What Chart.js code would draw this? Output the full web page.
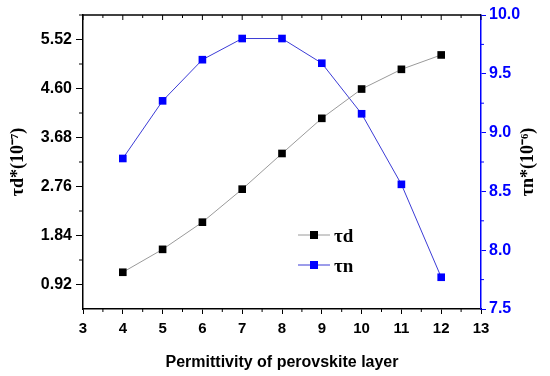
<!DOCTYPE html>
<html lang="en">
<head>
<meta charset="UTF-8">
<title>Permittivity of perovskite layer</title>
<script src="https://cdn.jsdelivr.net/npm/chart.js"></script>
<style>
  html, body { margin: 0; padding: 0; background: #ffffff; }
  .wrap { position: relative; width: 550px; height: 376px; }
</style>
</head>
<body>
<div class="wrap"><canvas id="chart" width="550" height="376"></canvas></div>
<script>
// --- data ---
const permittivity = [4, 5, 6, 7, 8, 9, 10, 11, 12];
const tauD = [1.15, 1.58, 2.09, 2.71, 3.38, 4.04, 4.59, 4.96, 5.23];   // x 10^-7
const tauN = [8.78, 9.27, 9.62, 9.80, 9.80, 9.59, 9.16, 8.56, 7.77];   // x 10^-6

const xTicks = [3, 4, 5, 6, 7, 8, 9, 10, 11, 12, 13];
const leftTicks = [0.92, 1.84, 2.76, 3.68, 4.60, 5.52];
const rightTicks = [7.5, 8.0, 8.5, 9.0, 9.5, 10.0];
const seriesNames = ['\u03C4d', '\u03C4n'];
const rightTitle = '\u03C4n*(10\u207B\u2076)';

const BLUE = '#0000ff';
const tickFont = { family: "'Liberation Sans', Arial, sans-serif", size: 15, weight: 'bold' };
const titleSerif = "bold 18px 'Liberation Serif', 'Times New Roman', serif";

// minor ticks sit halfway between the labelled ones
const mids = arr => arr.slice(1).map((v, i) => (v + arr[i]) / 2);

// frame: top border, inward top ticks, minor ticks, right title and the in-plot legend
const framePlugin = {
    id: 'frame',
    afterDraw(chart) {
        const { ctx, chartArea: a, scales } = chart;
        const seg = (x1, y1, x2, y2) => { ctx.beginPath(); ctx.moveTo(x1, y1); ctx.lineTo(x2, y2); ctx.stroke(); };
        ctx.save();
        ctx.strokeStyle = '#000'; ctx.lineWidth = 1.5;
        seg(a.left, a.top, a.right, a.top);
        ctx.lineWidth = 1;
        xTicks.forEach(v => { const x = scales.x.getPixelForValue(v); seg(x, a.top, x, a.top + 5); });
        mids(xTicks).forEach(v => {
            const x = scales.x.getPixelForValue(v);
            seg(x, a.top, x, a.top + 3);
            seg(x, a.bottom, x, a.bottom + 3);
        });
        mids(leftTicks).concat([leftTicks[leftTicks.length - 1] + 0.46]).forEach(v => {
            const y = scales.y.getPixelForValue(v); seg(a.left - 4, y, a.left, y);
        });
        ctx.strokeStyle = BLUE;
        mids(rightTicks).forEach(v => {
            const y = scales.y2.getPixelForValue(v); seg(a.right, y, a.right + 3, y);
        });

        // right axis title, reading bottom to top like the left one
        ctx.save();
        ctx.translate(a.right + 47, (a.top + a.bottom) / 2);
        ctx.rotate(-Math.PI / 2);
        ctx.fillStyle = '#000';
        ctx.font = titleSerif;
        ctx.textAlign = 'center';
        ctx.textBaseline = 'middle';
        ctx.fillText(rightTitle, 0, 0);
        ctx.restore();

        // legend
        const lx = a.left + 215, ly = a.top + 220;
        chart.data.datasets.forEach((ds, i) => {
            const y = ly + i * 30;
            ctx.strokeStyle = ds.borderColor; ctx.lineWidth = 1;
            seg(lx, y, lx + 32, y);
            ctx.fillStyle = ds.pointBackgroundColor;
            ctx.fillRect(lx + 12, y - 4, 8, 8);
            ctx.fillStyle = '#000';
            ctx.font = "bold 19px 'Liberation Serif', 'Times New Roman', serif";
            ctx.textAlign = 'left';
            ctx.textBaseline = 'middle';
            ctx.fillText(ds.label, lx + 36, y + 2);
        });
        ctx.restore();
    }
};

const ctx = document.getElementById('chart').getContext('2d');
new Chart(ctx, {
    type: 'line',
    data: {
        datasets: [
            {
                label: seriesNames[0],
                data: permittivity.map((x, i) => ({ x: x, y: tauD[i] })),
                yAxisID: 'y',
                borderColor: '#9a9a9a',
                borderWidth: 1,
                pointStyle: 'rect',
                pointRadius: 5.4,
                pointBackgroundColor: '#000000',
                pointBorderColor: '#000000',
                pointBorderWidth: 0
            },
            {
                label: seriesNames[1],
                data: permittivity.map((x, i) => ({ x: x, y: tauN[i] })),
                yAxisID: 'y2',
                borderColor: '#3b3bd6',
                borderWidth: 1,
                pointStyle: 'rect',
                pointRadius: 5.4,
                pointBackgroundColor: BLUE,
                pointBorderColor: BLUE,
                pointBorderWidth: 0
            }
        ]
    },
    options: {
        responsive: false,
        animation: false,
        layout: { padding: { top: 15, left: 0, right: 0, bottom: 0 } },
        plugins: { legend: { display: false }, tooltip: { enabled: false } },
        scales: {
            x: {
                type: 'linear',
                min: 3, max: 13,
                afterFit: s => { s.height = 67; },
                afterBuildTicks: s => { s.ticks = xTicks.map(v => ({ value: v })); },
                grid: { drawOnChartArea: false, tickLength: 5, tickColor: '#000' },
                border: { color: '#000', width: 1.5 },
                ticks: { color: '#000', font: tickFont, padding: 6, maxRotation: 0 },
                title: {
                    display: true,
                    text: 'Permittivity of perovskite layer',
                    color: '#000',
                    font: { family: "'Liberation Sans', Arial, sans-serif", size: 16, weight: 'bold' },
                    padding: { top: 2 }
                }
            },
            y: {
                position: 'left',
                min: 0.46, max: 5.98,
                afterFit: s => { s.width = 83; },
                afterBuildTicks: s => { s.ticks = leftTicks.map(v => ({ value: v })); },
                grid: { drawOnChartArea: false, tickLength: 7, tickColor: '#000' },
                border: { color: '#000', width: 1.5 },
                ticks: { color: '#000', font: { family: tickFont.family, size: 16, weight: 'bold' }, padding: 4, callback: v => v.toFixed(2) },
                title: {
                    display: true,
                    text: '\u03C4d*(10\u207B\u2077)',
                    color: '#000',
                    font: { family: "'Liberation Serif', 'Times New Roman', serif", size: 18, weight: 'bold' },
                    padding: { top: 8, bottom: 0 }
                }
            },
            y2: {
                position: 'right',
                min: 7.5, max: 10,
                afterFit: s => { s.width = 69; },
                afterBuildTicks: s => { s.ticks = rightTicks.map(v => ({ value: v })); },
                grid: { drawOnChartArea: false, tickLength: 5, tickColor: BLUE },
                border: { color: BLUE, width: 1.5 },
                ticks: { color: BLUE, font: { family: tickFont.family, size: 16, weight: 'bold' }, padding: 3, callback: v => v.toFixed(1) }
            }
        }
    },
    plugins: [framePlugin]
});
</script>
</body>
</html>
